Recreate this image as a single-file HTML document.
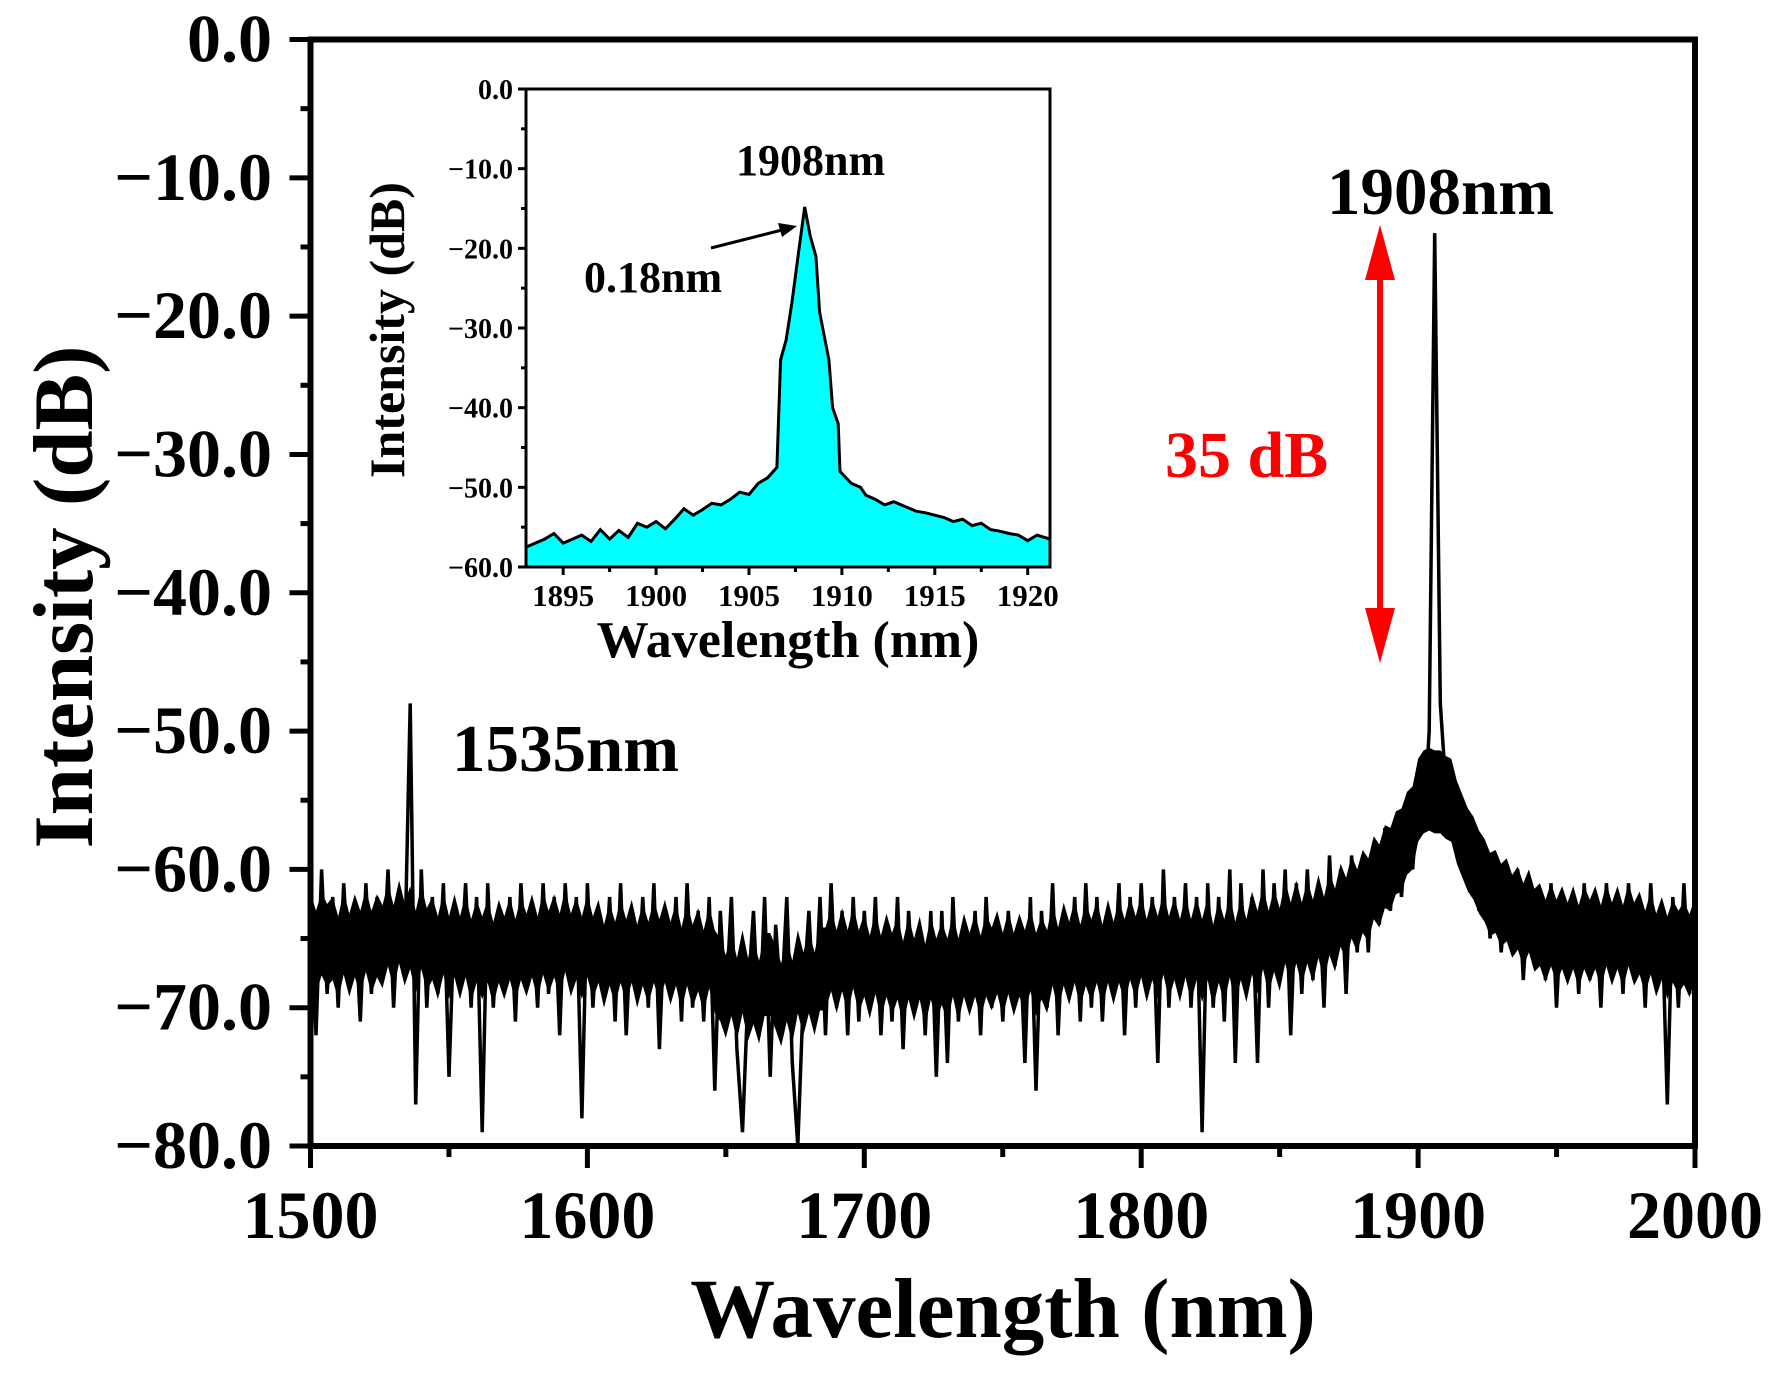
<!DOCTYPE html>
<html><head><meta charset="utf-8"><style>
html,body{margin:0;padding:0;background:#fff}
svg text{font-family:"Liberation Serif","DejaVu Serif",serif;font-weight:bold}
</style></head><body>
<svg id="chart" width="1773" height="1369" viewBox="0 0 1773 1369" xmlns="http://www.w3.org/2000/svg">
<g id="main"></g>
<g id="inset"></g>
<g>
<text x="1327" y="214" font-size="67">1908nm</text>
<text x="452" y="771" font-size="67">1535nm</text>
<text x="1165" y="477" font-size="66" fill="#ff0000">35 dB</text>
<g>
<line x1="1380" y1="270" x2="1380" y2="620" stroke="#ff0000" stroke-width="6"/>
<polygon points="1380,225 1365,280 1395,280" fill="#ff0000"/>
<polygon points="1380,663 1365,608 1395,608" fill="#ff0000"/>
</g>
<text x="736" y="175" font-size="44">1908nm</text>
<text x="584" y="292" font-size="44">0.18nm</text>
<g>
<line x1="711" y1="248" x2="782" y2="230" stroke="#000" stroke-width="3"/>
<polygon points="797,226 778,223 782,237" fill="#000"/>
</g>
</g>
</svg>
<script>
// ---- main spectrum data (1500..2000 nm, step 2 nm) ----
const mainStart = 1500;
const mainStep = 2;
const mainValues = [
-63,-72,-60,-69,-62,-70,-61,-68,-63,-71,
-61,-69,-62,-68,-60,-70,-62,-67,-48,-77,
-60,-70,-62,-69,-61,-75,-63,-68,-61,-70,
-62,-79,-61,-70,-63,-69,-62,-71,-61,-68,
-63,-70,-61,-69,-62,-72,-61,-68,-62,-78,
-61,-70,-63,-69,-62,-71,-61,-72,-63,-69,
-62,-70,-61,-73,-63,-69,-62,-71,-61,-70,
-63,-71,-62,-76,-63,-70,-62,-73,-79,-69,
-63,-72,-62,-75,-64,-70,-62,-74,-80,-69,
-63,-71,-62,-72,-61,-70,-63,-72,-62,-71,
-63,-70,-62,-72,-64,-71,-62,-73,-63,-70,
-64,-72,-63,-75,-63,-74,-62,-71,-64,-70,
-63,-72,-62,-70,-64,-71,-63,-69,-64,-74,
-62,-76,-63,-70,-61,-72,-63,-69,-62,-71,
-61,-70,-62,-71,-63,-69,-61,-72,-62,-70,
-61,-69,-62,-74,-60,-70,-62,-69,-61,-70,
-62,-79,-61,-70,-62,-71,-60,-74,-61,-69,
-62,-74,-60,-70,-61,-68,-60,-72,-61,-69,
-60,-68,-61,-70,-59,-67,-60,-69,-59,-66,
-59,-66,-58,-64,-57,-63,-57,-62,-56,-60,
-55,-57,-50,-14,-48,-54,-56,-58,-57,-61,
-58,-63,-59,-65,-60,-66,-61,-64,-60,-68,
-61,-67,-62,-68,-61,-70,-62,-67,-62,-69,
-61,-68,-62,-70,-61,-67,-62,-69,-61,-68,
-62,-70,-61,-68,-63,-77,-62,-70,-61,-69,
-64];
const mainXTicks = [1500,1600,1700,1800,1900,2000];
const mainYTicks = [0,-10,-20,-30,-40,-50,-60,-70,-80];
const mainYLabels = ["0.0","\u221210.0","\u221220.0","\u221230.0","\u221240.0","\u221250.0","\u221260.0","\u221270.0","\u221280.0"];

// ---- inset data ----
const insetX = [1893,1893.5,1894,1894.5,1895,1895.5,1896,1896.5,1897,1897.5,1898,1898.5,1899,1899.5,1900,1900.5,1901,1901.5,1902,1902.5,1903,1903.5,1904,1904.5,1905,1905.5,1906,1906.5,1906.7,1907,1907.3,1907.7,1908,1908.3,1908.6,1908.8,1909.3,1909.5,1909.8,1909.9,1910.5,1911,1911.3,1911.8,1912.3,1912.8,1913.3,1914,1914.5,1915,1915.5,1916,1916.5,1917,1917.5,1918,1918.5,1919,1919.5,1920,1920.5,1921.2];
const insetY = [-57.5,-57,-56.5,-55.8,-57,-56.5,-56,-56.8,-55.3,-56.5,-55.4,-56.3,-54.5,-55,-54.3,-55.2,-54,-52.7,-53.5,-52.8,-52,-52.2,-51.5,-50.6,-50.9,-49.5,-48.8,-47.5,-34,-31.5,-27,-20,-14.8,-18.5,-21,-28,-34,-40,-42,-48,-49.5,-50,-51,-51.5,-52.2,-51.8,-52.3,-53,-53.2,-53.5,-53.8,-54.3,-54,-54.8,-54.5,-55.3,-55.5,-55.8,-56,-56.7,-56,-56.5];
const insetXTicks = [1895,1900,1905,1910,1915,1920];
const insetYTicks = [0,-10,-20,-30,-40,-50,-60];
const insetYLabels = ["0.0","\u221210.0","\u221220.0","\u221230.0","\u221240.0","\u221250.0","\u221260.0"];

const NS = "http://www.w3.org/2000/svg";
function mk(tag, attrs, parent){const e=document.createElementNS(NS,tag);for(const k in attrs)e.setAttribute(k,attrs[k]);parent.appendChild(e);return e;}

const M = {l:310.5,r:1695,t:39.5,b:1146};
const mx = v => M.l + (v-1500)/500*(M.r-M.l);
const my = v => M.t + (0-v)/80*(M.b-M.t);
const gm = document.getElementById('main');

// band behind noise (trimmed rolling mean of data)
let upper=[], lower=[];
for(let i=0;i<mainValues.length;i++){
  let w=[];for(let j=i-4;j<=i+4;j++){if(j>=0&&j<mainValues.length)w.push(mainValues[j]);}
  w.sort((a,b)=>a-b);
  const k = w.length>=7 ? 2 : 1;
  const t = w.slice(k, w.length-k);
  const m = t.reduce((a,b)=>a+b,0)/t.length;
  upper.push([mx(mainStart+i*mainStep), my(m+3)]);
  lower.push([mx(mainStart+i*mainStep), my(m-3)]);
}
const band = mk('polygon',{points:upper.concat(lower.reverse()).map(p=>p[0].toFixed(1)+','+p[1].toFixed(1)).join(' '),fill:'#000'},gm);



const pts = mainValues.map((v,i)=>mx(mainStart+i*mainStep).toFixed(1)+','+my(v).toFixed(1)).join(' ');
const line = mk('polyline',{points:pts,fill:'none',stroke:'#000','stroke-width':3.5,'stroke-linejoin':'miter','stroke-miterlimit':2},gm);



const frame = mk('rect',{x:M.l,y:M.t,width:M.r-M.l,height:M.b-M.t,fill:'none',stroke:'#000','stroke-width':6},gm);



for(let v=1500; v<=2000; v+=50){
  const major = (v%100===0);
  mk('line',{x1:mx(v),x2:mx(v),y1:M.b,y2:M.b+(major?22:11),stroke:'#000','stroke-width':5},gm);
}
mainXTicks.forEach(v=>{
  const t = mk('text',{x:mx(v),y:1238,'font-size':68,'text-anchor':'middle'},gm);
  t.textContent = String(v);
  
  
});
for(let v=0; v>=-80; v-=5){
  const major = (v%10===0);
  mk('line',{x1:M.l,x2:M.l-(major?21:10),y1:my(v),y2:my(v),stroke:'#000','stroke-width':5},gm);
}
mainYTicks.forEach((v,i)=>{
  const t = mk('text',{x:272,y:my(v)+22,'font-size':68,'text-anchor':'end'},gm);
  t.textContent = mainYLabels[i];
  
  
});
const xt = mk('text',{x:1003,y:1337,'font-size':85,'text-anchor':'middle'},gm);
xt.textContent='Wavelength (nm)';


const yt = mk('text',{x:0,y:0,'font-size':85,'text-anchor':'middle',transform:'translate(92,597) rotate(-90)'},gm);
yt.textContent='Intensity (dB)';



const I = {l:526,r:1050,t:89,b:567};
const ix = v => I.l + (v-1893)/(1921.2-1893)*(I.r-I.l);
const iy = v => I.t + (0-v)/60*(I.b-I.t);
const gi = document.getElementById('inset');
mk('rect',{x:I.l,y:I.t,width:I.r-I.l,height:I.b-I.t,fill:'#fff'},gi);
let ap = insetX.map((x,i)=>ix(x).toFixed(1)+','+iy(insetY[i]).toFixed(1));
const area = mk('polygon',{points:ap.concat([ix(insetX[insetX.length-1]).toFixed(1)+','+I.b, ix(insetX[0]).toFixed(1)+','+I.b]).join(' '),fill:'#00ffff'},gi);


const il = mk('polyline',{points:ap.join(' '),fill:'none',stroke:'#000','stroke-width':3},gi);


const iframe = mk('rect',{x:I.l,y:I.t,width:I.r-I.l,height:I.b-I.t,fill:'none',stroke:'#000','stroke-width':3},gi);


for(let v=1895; v<=1920; v+=2.5){
  const major = (v%5===0);
  mk('line',{x1:ix(v),x2:ix(v),y1:I.b,y2:I.b+(major?8:5),stroke:'#000','stroke-width':3},gi);
}
insetXTicks.forEach(v=>{
  const t = mk('text',{x:ix(v),y:606,'font-size':31,'text-anchor':'middle'},gi);
  t.textContent=String(v);
  
  
});
for(let v=0; v>=-60; v-=5){
  const major=(v%10===0);
  mk('line',{x1:I.l,x2:I.l-(major?8:5),y1:iy(v),y2:iy(v),stroke:'#000','stroke-width':3},gi);
}
insetYTicks.forEach((v,i)=>{
  const t = mk('text',{x:513,y:iy(v)+10,'font-size':28,'text-anchor':'end'},gi);
  t.textContent=insetYLabels[i];
  
  
});
const ixt = mk('text',{x:788,y:657,'font-size':52,'text-anchor':'middle'},gi);
ixt.textContent='Wavelength (nm)';


const iyt = mk('text',{x:0,y:0,'font-size':50,'text-anchor':'middle',transform:'translate(404,330) rotate(-90)'},gi);
iyt.textContent='Intensity (dB)';


</script>
</body></html>
